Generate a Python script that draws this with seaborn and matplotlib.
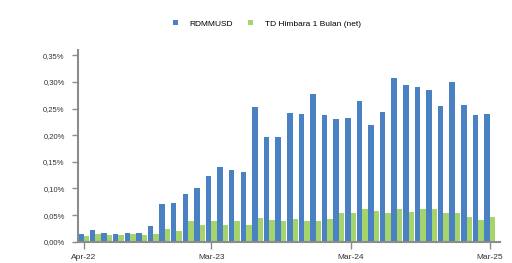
import pandas as pd
import matplotlib.pyplot as plt
import seaborn as sns
import numpy as np

months = pd.date_range("2022-04-01", "2025-03-01", freq="MS").strftime("%b-%y").tolist()

rdmmusd = [0.015, 0.0225, 0.017, 0.015, 0.017, 0.017, 0.030, 0.071, 0.073, 0.090,
           0.100, 0.124, 0.141, 0.135, 0.130, 0.252, 0.197, 0.197, 0.242, 0.240,
           0.278, 0.238, 0.231, 0.233, 0.265, 0.220, 0.244, 0.308, 0.295, 0.291,
           0.285, 0.255, 0.300, 0.257, 0.237, 0.240]
td_himbara = [0.011, 0.015, 0.013, 0.013, 0.015, 0.013, 0.015, 0.024, 0.021, 0.038,
              0.032, 0.038, 0.032, 0.039, 0.032, 0.045, 0.041, 0.039, 0.043, 0.039,
              0.039, 0.043, 0.054, 0.053, 0.062, 0.058, 0.053, 0.062, 0.056, 0.062,
              0.062, 0.054, 0.054, 0.047, 0.041, 0.047]

series_names = ["RDMMUSD", "TD Himbara 1 Bulan (net)"]
colors = ["#4A81C3", "#A4D46B"]

df = pd.concat([
    pd.DataFrame({"month": months, "series": series_names[0], "value": rdmmusd}),
    pd.DataFrame({"month": months, "series": series_names[1], "value": td_himbara}),
])

plt.rcParams["font.family"] = ["Liberation Sans", "DejaVu Sans"]

fig = plt.figure(figsize=(5.12, 2.63), dpi=100)
ax = fig.add_axes([0.152, 0.081, 0.825, 0.729])

sns.barplot(data=df, x="month", y="value", hue="series", order=months,
            hue_order=series_names, palette=colors, width=0.95, gap=0,
            saturation=1, ax=ax, legend=True)

ax.set_ylim(0, 0.36)
yt = np.arange(0, 0.351, 0.05)
ax.set_yticks(yt)
ax.set_yticklabels([f"{v:.2f}%".replace(".", ",") for v in yt], fontsize=5.5, color="#333333")
ax.set_xlim(-0.5, 35.9)
tick_idx = [0, 11, 23, 35]
ax.set_xticks(tick_idx)
ax.set_xticklabels([months[i] for i in tick_idx], fontsize=6, color="#333333")
ax.set_xlabel("")
ax.set_ylabel("")

for side in ["top", "right"]:
    ax.spines[side].set_visible(False)
for side in ["left", "bottom"]:
    ax.spines[side].set_color("#8c8c8c")
    ax.spines[side].set_linewidth(1.5)
ax.tick_params(axis="both", direction="out", color="#8c8c8c", width=1)
ax.tick_params(axis="y", length=4.5, pad=5)
ax.tick_params(axis="x", length=5, pad=3.5)

handles, labels = ax.get_legend_handles_labels()
ax.get_legend().remove()
fig.legend(handles, labels, loc="center", bbox_to_anchor=(0.5215, 0.909), ncol=2,
           frameon=False, fontsize=6, handlelength=0.6, handleheight=0.6,
           columnspacing=1.8, handletextpad=1.45)

plt.savefig("out.png", dpi=100)
